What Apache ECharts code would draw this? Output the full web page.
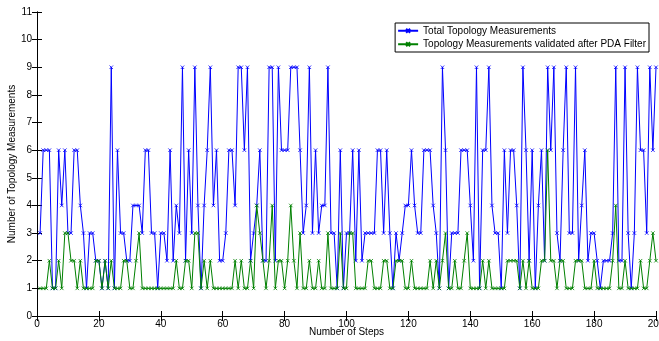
<!DOCTYPE html>
<html><head><meta charset="utf-8">
<script src="https://cdn.jsdelivr.net/npm/echarts@6/dist/echarts.min.js"></script>
<style>html,body{margin:0;padding:0;background:#fff}#c{width:659px;height:341px}</style>
</head><body><div id="c"></div>
<script>
var seriesNames = ['Total Topology Measurements', 'Topology Measurements validated after PDA Filter'];
var xTicks = [0, 20, 40, 60, 80, 100, 120, 140, 160, 180, 200];
var yTicks = [0, 1, 2, 3, 4, 5, 6, 7, 8, 9, 10, 11];
var totalMeas = [
3,6,6,6,1,1,6,4,6,3, 3,6,6,4,3,1,3,3,2,2,
1,2,1,9,1,6,3,3,2,2, 4,4,4,3,6,6,3,3,1,3,
3,2,6,2,4,3,9,2,6,3, 9,4,1,4,6,9,4,6,2,2,
3,6,6,4,9,9,6,9,2,3, 4,6,2,2,9,9,2,9,6,6,
6,9,9,9,6,3,4,9,3,6, 3,4,4,9,3,3,1,6,1,3,
3,6,2,6,2,3,3,3,3,6, 6,3,6,3,1,3,2,3,4,4,
6,4,3,3,6,6,6,4,3,1, 9,6,1,3,3,3,6,6,6,4,
2,9,1,6,6,9,4,3,3,1, 6,3,6,6,4,1,9,6,2,6,
1,4,6,2,9,6,9,3,2,6, 9,3,3,9,2,4,6,2,3,3,
2,1,2,2,2,3,9,2,2,9, 3,1,3,9,6,6,3,9,6,9
];
var validatedMeas = [
1,1,1,2,1,1,2,1,3,3, 2,2,1,2,1,1,1,1,2,2,
1,2,1,2,1,1,1,2,2,1, 1,2,3,1,1,1,1,1,1,1,
1,1,1,1,2,1,1,2,2,1, 3,3,1,2,1,2,1,1,1,1,
1,1,1,2,1,2,1,1,2,1, 4,3,2,1,2,4,1,2,2,1,
2,4,2,1,3,1,1,2,1,1, 2,1,1,3,1,1,1,3,1,1,
3,3,1,1,1,1,2,2,1,1, 1,2,2,1,1,2,2,2,1,1,
2,1,1,1,1,1,2,1,2,1, 2,3,1,1,2,1,1,2,3,1,
1,1,1,2,1,2,1,1,1,1, 1,2,2,2,2,1,2,1,2,1,
1,1,2,2,6,2,2,1,2,2, 1,1,1,2,2,2,1,1,1,2,
1,1,1,1,1,2,4,1,1,2, 1,1,1,1,2,1,1,2,3,2
];
function pairs(arr){ return arr.map(function(v,i){ return [i+1, v]; }); }
var FONT = 'Liberation Sans, Arial, Helvetica, sans-serif';
var xSym = 'path://M0,0L10,10M10,0L0,10';
var chart = echarts.init(document.getElementById('c'));
var axisCommon = {
  axisLine: {show: true, lineStyle: {color: '#000', width: 1}},
  axisTick: {show: true, inside: true, length: 5, lineStyle: {color: '#000'}},
  splitLine: {show: false}
};
chart.setOption({
  animation: false,
  backgroundColor: '#fff',
  textStyle: {fontFamily: FONT},
  grid: {left: 37, right: 3, top: 12, bottom: 25, containLabel: false, outerBoundsMode: 'none'},
  legend: {
    data: seriesNames,
    orient: 'vertical',
    right: 10, top: 23,
    backgroundColor: '#fff',
    borderColor: '#000', borderWidth: 1,
    padding: [2, 3, 2, 2],
    itemGap: 2,
    itemWidth: 20, itemHeight: 5,
    textStyle: {fontFamily: FONT, fontSize: 10, color: '#000', lineHeight: 11.5}
  },
  xAxis: [
    Object.assign({}, axisCommon, {
      type: 'value', min: xTicks[0], max: xTicks[xTicks.length-1], interval: 20,
      position: 'bottom',
      name: 'Number of Steps', nameLocation: 'middle', nameGap: 11, nameMoveOverlap: false,
      nameTextStyle: {fontFamily: FONT, fontSize: 10, color: '#000', verticalAlign: 'top'},
      axisLabel: {fontFamily: FONT, fontSize: 10, color: '#000', margin: 3}
    }),
    Object.assign({}, axisCommon, {
      type: 'value', min: 0, max: 200, interval: 20, position: 'top',
      axisLabel: {show: false}
    })
  ],
  yAxis: [
    Object.assign({}, axisCommon, {
      type: 'value', min: yTicks[0], max: yTicks[yTicks.length-1], interval: 1,
      position: 'left',
      name: 'Number of Topology Measurements', nameLocation: 'middle', nameGap: 20, nameMoveOverlap: false,
      nameTextStyle: {fontFamily: FONT, fontSize: 10, color: '#000'},
      axisLabel: {fontFamily: FONT, fontSize: 10, color: '#000', margin: 5}
    }),
    Object.assign({}, axisCommon, {
      type: 'value', min: 0, max: 11, interval: 1, position: 'right',
      axisLabel: {show: false}
    })
  ],
  series: [
    {
      name: seriesNames[0], type: 'line', xAxisIndex: 0, yAxisIndex: 0,
      data: pairs(totalMeas),
      symbol: xSym, symbolSize: 3.5, showAllSymbol: true,
      lineStyle: {color: '#0000ff', width: 1},
      itemStyle: {color: '#0000ff', borderColor: '#0000ff', borderWidth: 0.8},
      z: 2
    },
    {
      name: seriesNames[1], type: 'line', xAxisIndex: 0, yAxisIndex: 0,
      data: pairs(validatedMeas),
      symbol: xSym, symbolSize: 3.5, showAllSymbol: true,
      lineStyle: {color: '#008000', width: 1},
      itemStyle: {color: '#008000', borderColor: '#008000', borderWidth: 0.8},
      z: 3
    }
  ]
});
</script></body></html>
